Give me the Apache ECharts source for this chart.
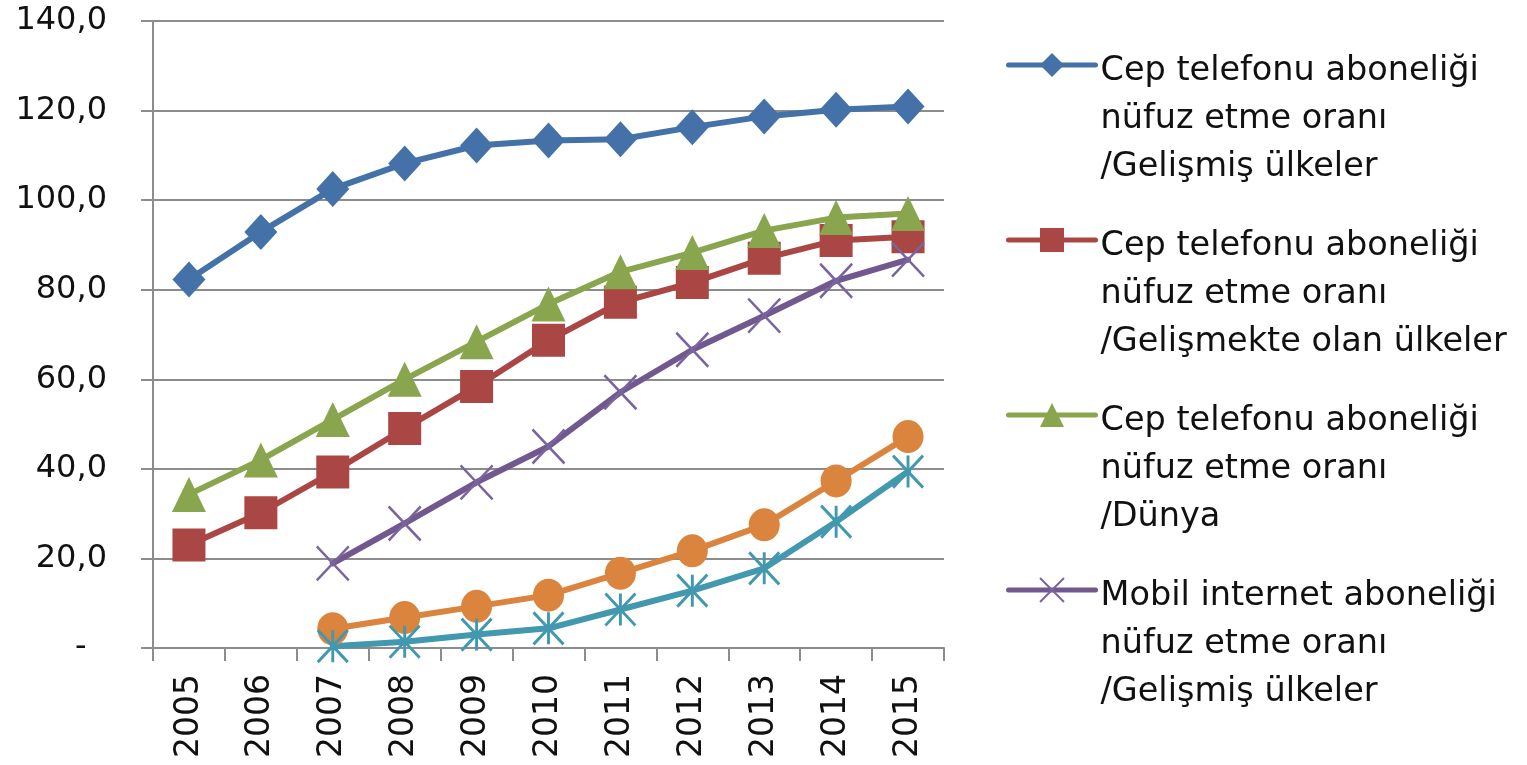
<!DOCTYPE html>
<html><head><meta charset="utf-8">
<script src="https://cdn.jsdelivr.net/npm/echarts@6/dist/echarts.min.js"></script>
<style>html,body{margin:0;padding:0;background:#fff}#c{width:1527px;height:765px}</style>
</head><body><div id="c"></div>
<script>
const years = ['2005','2006','2007','2008','2009','2010','2011','2012','2013','2014','2015'];
const yTickLabels = ['-  ','20,0','40,0','60,0','80,0','100,0','120,0','140,0'];
const seriesNames = [
  'Cep telefonu aboneliği\nnüfuz etme oranı\n/Gelişmiş ülkeler',
  'Cep telefonu aboneliği\nnüfuz etme oranı\n/Gelişmekte olan ülkeler',
  'Cep telefonu aboneliği\nnüfuz etme oranı\n/Dünya',
  'Mobil internet aboneliği\nnüfuz etme oranı\n/Gelişmiş ülkeler',
  'Mobil internet aboneliği\nnüfuz etme oranı\n/Dünya',
  'Mobil internet aboneliği\nnüfuz etme oranı\n/Gelişmekte olan ülkeler'
];
const legendNames = seriesNames.slice(0, 4);
const mobileDeveloped   = [82.3, 92.9, 102.5, 108.2, 112.2, 113.3, 113.6, 116.3, 118.7, 120.2, 120.9];
const mobileDeveloping  = [23.0, 30.2, 39.3, 49.0, 58.4, 68.7, 77.2, 81.6, 87.0, 91.0, 91.8];
const mobileWorld       = [34.3, 42.0, 51.0, 60.0, 68.4, 76.8, 84.0, 88.3, 93.2, 96.1, 97.0];
const internetDeveloped = [null, null, 18.9, 27.8, 37.0, 45.0, 57.1, 66.6, 74.2, 82.0, 86.7];
const internetWorld     = [null, null, 4.3, 6.8, 9.3, 11.8, 16.7, 21.7, 27.5, 37.3, 47.2];
const internetDeveloping= [null, null, 0.4, 1.4, 3.0, 4.4, 8.6, 12.8, 17.8, 28.2, 39.4];

const FONT = 'DejaVu Sans';
const X_PATH = 'path://M0,0L10,10M10,0L0,10';
const STAR_PATH = 'path://M5,0L5,10M0,0L10,10M10,0L0,10';

function mk(name, data, color, symbol, size, extra) {
  return Object.assign({
    name: name, type: 'line', data: data, color: color,
    symbol: symbol, symbolSize: size, showSymbol: true,
    connectNulls: false, animation: false,
    lineStyle: { width: 6, color: color, join: 'round', cap: 'round' },
    itemStyle: { color: color },
    emphasis: { disabled: true }
  }, extra || {});
}

const chart = echarts.init(document.getElementById('c'));
chart.setOption({
  backgroundColor: '#ffffff',
  animation: false,
  grid: { left: 153, right: 583, top: 21, bottom: 117, containLabel: false },
  xAxis: {
    type: 'category', data: years, boundaryGap: true,
    axisLine: { lineStyle: { color: '#8c8c8c', width: 2 } },
    axisTick: { show: true, length: 13, lineStyle: { color: '#8c8c8c', width: 2 } },
    axisLabel: { rotate: 90, margin: 26, fontFamily: FONT, fontSize: 33, color: '#111' },
    splitLine: { show: false }
  },
  yAxis: {
    type: 'value', min: 0, max: 140, interval: 20,
    axisLine: { show: true, lineStyle: { color: '#8c8c8c', width: 2 } },
    axisTick: { show: true, length: 12, lineStyle: { color: '#8c8c8c', width: 2 } },
    axisLabel: { margin: 46, fontFamily: FONT, fontSize: 32, color: '#111',
      formatter: function (v) { return yTickLabels[Math.round(v / 20)]; } },
    splitLine: { show: true, lineStyle: { color: '#8c8c8c', width: 2 } }
  },
  legend: {
    data: legendNames, orient: 'vertical', left: 1006, top: -61, padding: 0,
    itemWidth: 87, itemHeight: 30, itemGap: -77, selectedMode: false,
    lineStyle: { width: 5 },
    formatter: function (name) { return '{s| }\n' + name; },
    textStyle: { fontFamily: FONT, fontSize: 33.5, color: '#111', lineHeight: 48,
      rich: { s: { fontSize: 10, lineHeight: 108 } } }
  },
  series: [
    mk(seriesNames[0], mobileDeveloped, '#4472a8', 'diamond', [33, 36]),
    mk(seriesNames[1], mobileDeveloping, '#aa4643', 'rect', [33, 33]),
    mk(seriesNames[2], mobileWorld, '#89a54e', 'triangle', [34, 35]),
    mk(seriesNames[3], internetDeveloped, '#71588f', X_PATH, [32, 34],
       { itemStyle: { color: '#7a64a0', borderColor: '#7a64a0', borderWidth: 2.5 } }),
    mk(seriesNames[4], internetWorld, '#db843d', 'circle', [31, 33]),
    mk(seriesNames[5], internetDeveloping, '#4198af', STAR_PATH, [30, 32],
       { itemStyle: { color: '#4198af', borderColor: '#4198af', borderWidth: 3 } })
  ]
});
</script>
</body></html>
